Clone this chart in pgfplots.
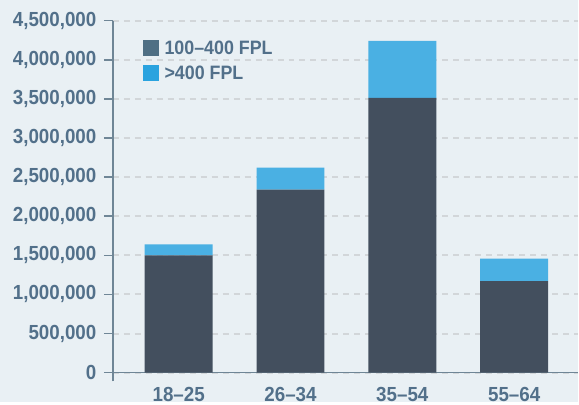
\documentclass[border=0pt]{standalone}
\usepackage{fontspec}
\setmainfont{Liberation Sans}[FakeStretch=0.92]
\usepackage{pgfplots}
\pgfplotsset{compat=1.18}
\definecolor{bgc}{HTML}{E9F0F4}
\definecolor{darkbar}{HTML}{434F5E}
\definecolor{lightbar}{HTML}{4AB0E3}
\definecolor{legdark}{HTML}{4F6F84}
\definecolor{leglight}{HTML}{2AA3DF}
\definecolor{txt}{HTML}{52708A}
\definecolor{axc}{HTML}{6F8696}
\definecolor{gridc}{HTML}{D2D6D9}
\begin{document}
\begin{tikzpicture}
\fill[bgc] (-113bp,-21bp) rectangle (466bp,382bp);
\begin{axis}[
  at={(0,0)}, anchor=south west,
  scale only axis, width=466bp, height=361.3bp,
  ybar stacked, bar width=68bp,
  xmin=-0.589, xmax=3.571, ymin=-111000, ymax=4500000,
  axis y line*=left, axis x line*=bottom,
  axis line style={-, axc, line width=1.5bp},
  x axis line style={draw=none},
  xtick={0,1,2,3}, xticklabels={18--25,26--34,35--54,55--64},
  xtick style={draw=none},
  xticklabel style={yshift=7bp},
  ytick={0,500000,...,4500000},
  scaled y ticks=false,
  yticklabel style={xshift=-4bp, /pgf/number format/.cd, fixed, 1000 sep={,}, assume math mode=true},
  ticklabel style={font=\fontsize{20.5}{24}\selectfont\bfseries, text=txt},
  ytick style={axc, line width=1.5bp},
  major tick length=9bp, tick align=outside, ytick pos=left,
  ymajorgrids, grid style={gridc, line width=2bp, dash pattern=on 6bp off 5bp},
  legend style={draw=none, fill=none, at={(axis description cs:0.0644,0.951)}, anchor=north west,
    inner sep=0pt, font=\fontsize{19.5}{22}\selectfont\bfseries, text=txt, row sep=6bp,
    /tikz/every odd column/.style={column sep=4bp}},
  legend cell align=left,
]
\addplot[fill=darkbar, draw=none,
  legend image code/.code={\fill[legdark] (0bp,-7.8bp) rectangle (15.6bp,7.8bp);}]
  coordinates {(0,1500000) (1,2340000) (2,3513000) (3,1169000)};
\addplot[fill=lightbar, draw=none,
  legend image code/.code={\fill[leglight] (0bp,-7.8bp) rectangle (15.6bp,7.8bp);}]
  coordinates {(0,140000) (1,280000) (2,728000) (3,290000)};
\legend{100--400 FPL, >400 FPL}
\draw[axc, line width=1.5bp] (axis cs:-0.589,0) -- (axis cs:3.571,0);
\end{axis}
\end{tikzpicture}
\end{document}
